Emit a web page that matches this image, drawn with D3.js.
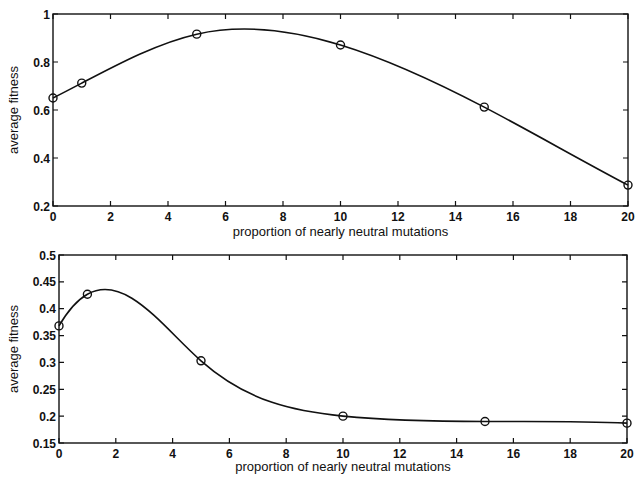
<!DOCTYPE html>
<html>
<head>
<meta charset="utf-8">
<script src="https://cdn.jsdelivr.net/npm/d3@7"></script>
<style>
  body { margin: 0; background: #fff; }
  svg { display: block; }
  text { font-family: "Liberation Sans", Arial, Helvetica, sans-serif; fill: #111; }
</style>
</head>
<body>
<svg id="chart" width="643" height="478"></svg>
<script>
// proportion of nearly neutral mutations (x values, same for both panels)
var proportion = [0, 1, 5, 10, 15, 20];
// average fitness, top panel
var fitnessTop = [0.65, 0.712, 0.916, 0.871, 0.612, 0.287];
// average fitness, bottom panel
var fitnessBottom = [0.368, 0.427, 0.303, 0.2, 0.19, 0.187];

var xTicks = [0, 2, 4, 6, 8, 10, 12, 14, 16, 18, 20];
var yTicksTop = [0.2, 0.4, 0.6, 0.8, 1];
var yTicksBottom = [0.15, 0.2, 0.25, 0.3, 0.35, 0.4, 0.45, 0.5];

var xLabel = "proportion of nearly neutral mutations";
var yLabel = "average fitness";

// cubic spline y(x) with not-a-knot ends (like matlab's spline), drawn as beziers
function SplineX(context) { this._context = context; }
SplineX.prototype = {
  areaStart: function () { this._line = 0; },
  areaEnd: function () { this._line = NaN; },
  lineStart: function () { this._x = []; this._y = []; },
  point: function (x, y) { this._x.push(+x); this._y.push(+y); },
  lineEnd: function () {
    var xs = this._x, ys = this._y, n = xs.length, ctx = this._context;
    if (!n) return;
    ctx.moveTo(xs[0], ys[0]);
    if (n < 4) { for (var k = 1; k < n; k++) ctx.lineTo(xs[k], ys[k]); return; }
    var h = [], dl = [];
    for (var i = 0; i < n - 1; i++) { h[i] = xs[i + 1] - xs[i]; dl[i] = (ys[i + 1] - ys[i]) / h[i]; }
    // build system A s = b
    var A = [], b = [];
    for (i = 0; i < n; i++) { A.push(new Array(n).fill(0)); b.push(0); }
    var a0 = 1 / (h[0] * h[0]), a1 = 1 / (h[1] * h[1]);
    A[0][0] = a0; A[0][1] = a0 - a1; A[0][2] = -a1; b[0] = 2 * dl[0] * a0 - 2 * dl[1] * a1;
    for (i = 1; i < n - 1; i++) {
      A[i][i - 1] = h[i]; A[i][i] = 2 * (h[i - 1] + h[i]); A[i][i + 1] = h[i - 1];
      b[i] = 3 * (h[i] * dl[i - 1] + h[i - 1] * dl[i]);
    }
    var c0 = 1 / (h[n - 3] * h[n - 3]), c1 = 1 / (h[n - 2] * h[n - 2]);
    A[n - 1][n - 3] = c0; A[n - 1][n - 2] = c0 - c1; A[n - 1][n - 1] = -c1;
    b[n - 1] = 2 * dl[n - 3] * c0 - 2 * dl[n - 2] * c1;
    // gaussian elimination with pivoting
    for (var col = 0; col < n; col++) {
      var piv = col;
      for (var r = col + 1; r < n; r++) if (Math.abs(A[r][col]) > Math.abs(A[piv][col])) piv = r;
      var tA = A[col]; A[col] = A[piv]; A[piv] = tA;
      var tb = b[col]; b[col] = b[piv]; b[piv] = tb;
      for (r = col + 1; r < n; r++) {
        var f = A[r][col] / A[col][col];
        for (var c = col; c < n; c++) A[r][c] -= f * A[col][c];
        b[r] -= f * b[col];
      }
    }
    var s = new Array(n).fill(0);
    for (r = n - 1; r >= 0; r--) {
      var sum = b[r];
      for (c = r + 1; c < n; c++) sum -= A[r][c] * s[c];
      s[r] = sum / A[r][r];
    }
    for (i = 0; i < n - 1; i++) {
      ctx.bezierCurveTo(
        xs[i] + h[i] / 3, ys[i] + s[i] * h[i] / 3,
        xs[i + 1] - h[i] / 3, ys[i + 1] - s[i + 1] * h[i] / 3,
        xs[i + 1], ys[i + 1]);
    }
  }
};
function curveSplineX(context) { return new SplineX(context); }

var svg = d3.select("#chart");

var panels = [
  { values: fitnessTop, yDomain: [0.2, 1], yTicks: yTicksTop,
    left: 53, right: 628, top: 14, bottom: 206, tickBase: 221, labelBase: 236 },
  { values: fitnessBottom, yDomain: [0.15, 0.5], yTicks: yTicksBottom,
    left: 59, right: 627, top: 255, bottom: 443, tickBase: 457.5, labelBase: 471 }
];

panels.forEach(function (p) {
  var x = d3.scaleLinear().domain([0, 20]).range([p.left, p.right]);
  var y = d3.scaleLinear().domain(p.yDomain).range([p.bottom, p.top]);
  var g = svg.append("g");
  var tl = 5; // tick length, pointing inward

  // box
  g.append("rect")
    .attr("x", p.left).attr("y", p.top)
    .attr("width", p.right - p.left).attr("height", p.bottom - p.top)
    .attr("fill", "none").attr("stroke", "#111").attr("stroke-width", 1.4);

  // x ticks, bottom and top
  g.selectAll(".xt").data(xTicks).enter().append("path")
    .attr("d", function (d) {
      return "M" + x(d) + "," + p.bottom + "v" + (-tl) + "M" + x(d) + "," + p.top + "v" + tl;
    })
    .attr("stroke", "#111").attr("stroke-width", 1.2);

  g.selectAll(".xl").data(xTicks).enter().append("text")
    .attr("x", function (d) { return x(d); })
    .attr("y", p.tickBase)
    .attr("text-anchor", "middle")
    .attr("font-size", 12).attr("font-weight", "bold")
    .text(function (d) { return d; });

  // y ticks, left and right
  g.selectAll(".yt").data(p.yTicks).enter().append("path")
    .attr("d", function (d) {
      return "M" + p.left + "," + y(d) + "h" + tl + "M" + p.right + "," + y(d) + "h" + (-tl);
    })
    .attr("stroke", "#111").attr("stroke-width", 1.2);

  g.selectAll(".yl").data(p.yTicks).enter().append("text")
    .attr("x", p.left - 3)
    .attr("y", function (d) { return y(d) + 4.5; })
    .attr("text-anchor", "end")
    .attr("font-size", 12).attr("font-weight", "bold")
    .text(function (d) { return d3.format("~g")(d); });

  // axis labels
  g.append("text")
    .attr("x", (p.left + p.right) / 2)
    .attr("y", p.labelBase)
    .attr("text-anchor", "middle")
    .attr("font-size", 13)
    .text(xLabel);

  g.append("text")
    .attr("transform", "translate(18," + ((p.top + p.bottom) / 2) + ") rotate(-90)")
    .attr("text-anchor", "middle")
    .attr("font-size", 13)
    .text(yLabel);

  // smooth curve through the points
  var pts = proportion.map(function (d, i) { return [d, p.values[i]]; });
  var line = d3.line()
    .x(function (d) { return x(d[0]); })
    .y(function (d) { return y(d[1]); })
    .curve(curveSplineX);

  g.append("path")
    .datum(pts)
    .attr("d", line)
    .attr("fill", "none")
    .attr("stroke", "#111")
    .attr("stroke-width", 1.6);

  // open circle markers
  g.selectAll(".pt").data(pts).enter().append("circle")
    .attr("cx", function (d) { return x(d[0]); })
    .attr("cy", function (d) { return y(d[1]); })
    .attr("r", 4)
    .attr("fill", "none")
    .attr("stroke", "#111")
    .attr("stroke-width", 1.4);
});
</script>
</body>
</html>
